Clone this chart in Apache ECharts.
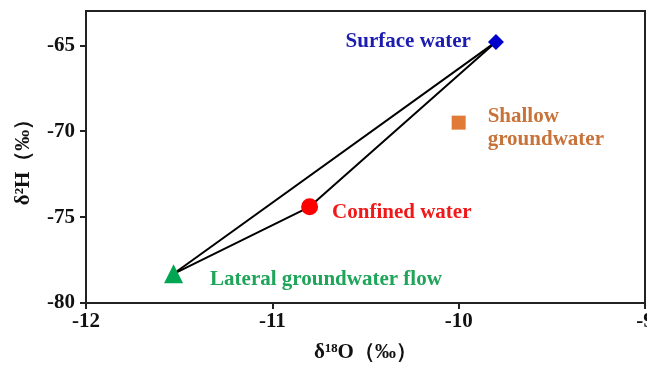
<!DOCTYPE html>
<html>
<head>
<meta charset="utf-8">
<title>d18O vs d2H</title>
<script src="https://cdn.jsdelivr.net/npm/echarts@6/dist/echarts.min.js"></script>
<style>
body{margin:0;padding:0;background:#fff;}
#main{width:647px;height:365px;}
</style>
</head>
<body>
<div id="main"></div>
<script>
// water samples: [d18O, d2H]
var names = ['Surface water', 'Shallow\ngroundwater', 'Confined water', 'Lateral groundwater flow'];
var d18O = [-9.8, -10.0, -10.8, -11.53];
var d2H = [-64.8, -69.5, -74.4, -78.3];
var xTicks = [-12, -11, -10, -9];
var yTicks = [-80, -75, -70, -65];

var font = 'Liberation Serif, Times New Roman, serif';
var symbols = ['diamond', 'rect', 'circle', 'triangle'];
var sizes = [16, 14, 17, 19];
var colors = ['#0000cc', '#e07a36', '#ff0000', '#00a651'];
var textColors = ['#1c1cb0', '#c8733a', '#f01818', '#1ea55a'];
var labelPos = ['left', 'right', 'right', 'right'];
var labelOff = [[-12, 0], [17, 5], [9, 6], [22, 6]];

function pt(i){ return [d18O[i], d2H[i]]; }

var series = [
  {type:'line', data:[pt(3), pt(0)], symbol:'none', lineStyle:{color:'#000', width:2}, silent:true, z:1},
  {type:'line', data:[pt(3), pt(2), pt(0)], symbol:'none', lineStyle:{color:'#000', width:2}, silent:true, z:1}
];
for (var i = 0; i < names.length; i++) {
  series.push({
    type:'scatter', name:names[i], z:3,
    symbol:symbols[i], symbolSize:sizes[i],
    itemStyle:{color:colors[i], opacity:1},
    data:[pt(i)],
    label:{show:true, formatter:names[i], position:labelPos[i], offset:labelOff[i],
      color:textColors[i], fontFamily:font, fontWeight:'bold', fontSize:21, lineHeight:23, align: labelPos[i]=='left' ? 'right' : 'left'}
  });
}

var chart = echarts.init(document.getElementById('main'));
chart.setOption({
  animation:false,
  backgroundColor:'#fff',
  grid:{left:86, right:2, top:11, bottom:62, show:true, borderColor:'#222', borderWidth:2, outerBoundsMode:'none', containLabel:false},
  xAxis:{
    type:'value', min:-12, max:-9, interval:1,
    name:'δ¹⁸O（‰）', nameLocation:'middle', nameGap:39,
    nameTextStyle:{color:'#111', fontFamily:font, fontWeight:'bold', fontSize:21},
    axisLine:{onZero:false, lineStyle:{color:'#222', width:2}},
    axisTick:{length:6, lineStyle:{color:'#222', width:2}, customValues:xTicks},
    axisLabel:{color:'#111', fontFamily:font, fontWeight:'bold', fontSize:21, margin:8, customValues:xTicks},
    splitLine:{show:false}
  },
  yAxis:{
    type:'value', min:-80, max:-63, interval:5,
    name:'δ²H（‰）', nameLocation:'middle', nameGap:52, nameRotate:90,
    nameTextStyle:{color:'#111', fontFamily:font, fontWeight:'bold', fontSize:21},
    axisLine:{onZero:false, lineStyle:{color:'#222', width:2}},
    axisTick:{length:6, lineStyle:{color:'#222', width:2}, customValues:yTicks},
    axisLabel:{color:'#111', fontFamily:font, fontWeight:'bold', fontSize:21, margin:11, customValues:yTicks},
    splitLine:{show:false}
  },
  series:series
});
</script>
</body>
</html>
